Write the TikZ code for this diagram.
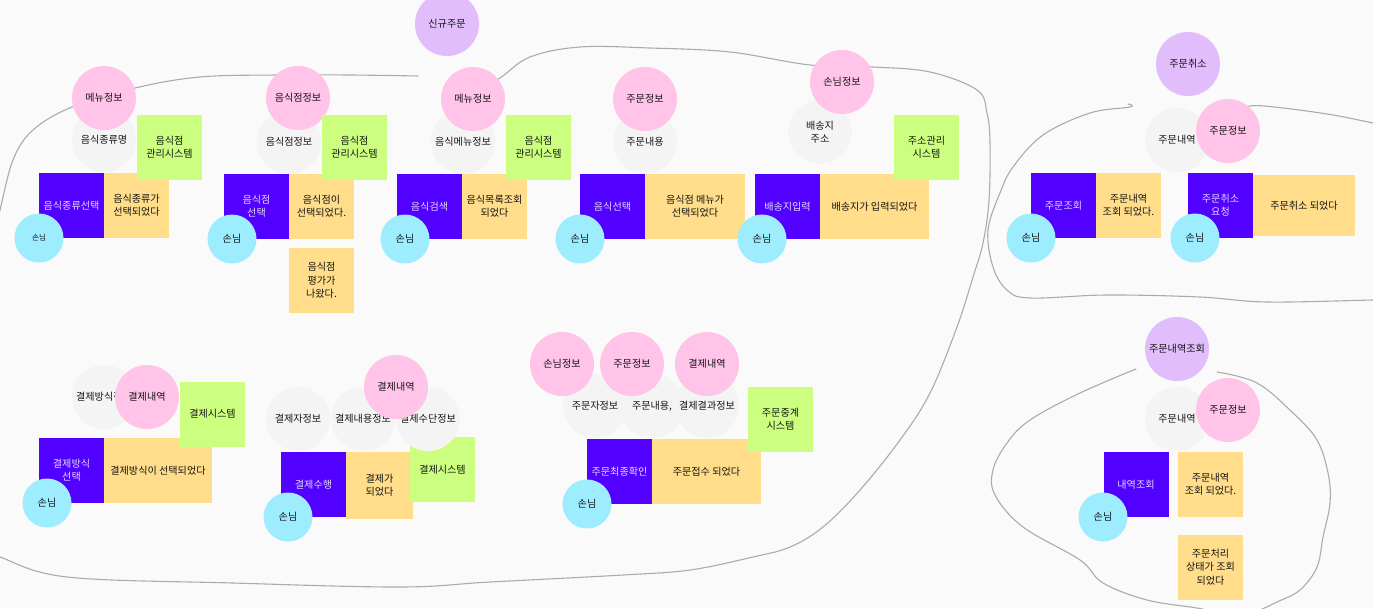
\documentclass[tikz,border=0pt]{standalone}
\usepackage{fontspec}
\setmainfont{Noto Sans CJK KR}
\usepackage{xcolor}
\usepackage{tikz}
\definecolor{cmdblue}{HTML}{5200FF}
\definecolor{evtyellow}{HTML}{FFDD8A}
\definecolor{sysgreen}{HTML}{CCFF80}
\definecolor{infopink}{HTML}{FFC4E8}
\definecolor{aggpurple}{HTML}{E1BDFC}
\definecolor{actorcyan}{HTML}{9DEDFF}
\definecolor{attrgray}{HTML}{F4F4F4}
\definecolor{paper}{HTML}{FAFAFA}
\definecolor{pen}{HTML}{ABABAB}
\tikzset{
	note/.style={
			font=\fontsize{10.1}{13.3}\selectfont,
			text=black!92,
			align=center,
			inner sep=0pt,
		},
	cmd/.style={note, rectangle, fill=cmdblue, text=white!85!cmdblue, minimum width=65pt, minimum height=65pt},
	evt/.style={note, rectangle, fill=evtyellow, minimum width=65pt, minimum height=65pt},
	sys/.style={note, rectangle, fill=sysgreen, minimum width=65pt, minimum height=65pt},
	info/.style={note, circle, fill=infopink, minimum size=64pt},
	attr/.style={note, circle, fill=attrgray, minimum size=64pt},
	agg/.style={note, circle, fill=aggpurple, minimum size=64pt},
	actor/.style={note, circle, fill=actorcyan, minimum size=49pt},
	border/.style={draw=pen, line width=1.1pt, line cap=round, line join=round}
}
\begin{document}
\begin{tikzpicture}[x=1pt,y=-1pt]
			\fill[paper] (0,0) rectangle (1373,608);
			\useasboundingbox (0,0) rectangle (1373,608);

			\draw[border] plot[smooth, tension=0.6] coordinates {(-2,215) (0,210) (13,160) (33,130) (72,107) (135,88) (200,77) (277,75) (350,75) (418,76)};
			\draw[border] plot[smooth, tension=0.6] coordinates {(480,88) (500,78) (530,57) (580,47) (650,48) (730,52) (810,65) (873,67) (930,72) (977,90) (987,113) (990,143) (989,200) (983,243) (973,277) (957,327) (930,393) (900,440) (860,490) (823,527) (790,547) (753,557) (690,570) (623,575) (490,582) (400,587) (233,583) (67,577) (0,557) (-2,556)};
			\draw[border] plot[smooth, tension=0.6] coordinates {(1128,104) (1130,107) (1090,113) (1043,135) (1013,167) (1000,193) (988,230) (993,267) (1007,290) (1030,298) (1107,295) (1200,297) (1267,302) (1373,300) (1375,300)};
			\draw[border] plot[smooth, tension=0.6] coordinates {(1235,115) (1250,106) (1283,108) (1333,115) (1373,123) (1375,123)};
			\draw[border] plot[smooth, tension=0.6] coordinates {(1136,369) (1080,393) (1030,420) (1007,443) (993,470) (995,495) (1023,527) (1080,560) (1103,583) (1147,600) (1197,608) (1215,612)};
			\draw[border] plot[smooth, tension=0.6] coordinates {(1217,372) (1257,383) (1293,413) (1317,440) (1328,473) (1330,503) (1323,537) (1317,567) (1300,590) (1277,602) (1260,610)};

			\node[attr] at (104,140) (kindname) {음식종류명};
			\node[info] at (104,98) (menu1) {메뉴정보};
			\node[evt] at (136.5,205.5) (kindpicked) {음식종류가\\선택되었다};
			\node[cmd] at (71.5,205.5) (pickkind) {음식종류선택};
			\node[sys] at (169.5,147.5) (shopsys1) {음식점\\관리시스템};
			\node[actor, font=\fontsize{7.6}{9}\selectfont] at (39,238) (guest1) {손님};

			\node[attr] at (289,142) (shopattr) {음식점정보};
			\node[info] at (298,98) (shopinfo) {음식점정보};
			\node[evt] at (321.5,206.5) (shoppicked) {음식점이\\선택되었다.};
			\node[cmd] at (256.5,206.5) (pickshop) {음식점\\선택};
			\node[sys] at (354.5,147) (shopsys2) {음식점\\관리시스템};
			\node[actor] at (232,239) (guest2) {손님};
			\node[evt] at (321.5,280.5) (shoprated) {음식점\\평가가\\나왔다.};

			\node[agg] at (447,24) (neworder) {신규주문};
			\node[attr] at (463,142) (menuattr) {음식메뉴정보};
			\node[info] at (473,99) (menu2) {메뉴정보};
			\node[evt] at (494.5,206.5) (listed) {음식목록조회\\되었다};
			\node[cmd] at (429.5,206.5) (search) {음식검색};
			\node[sys] at (538.5,147.5) (shopsys3) {음식점\\관리시스템};
			\node[actor] at (405,239) (guest3) {손님};

			\node[attr] at (645,142) (orderattr) {주문내용};
			\node[info] at (645,99) (order1) {주문정보};
			\node[evt, minimum width=100pt] at (695,206.5) (foodpicked) {음식점 메뉴가\\선택되었다};
			\node[cmd] at (612.5,206.5) (pickfood) {음식선택};
			\node[actor] at (580,239) (guest4) {손님};

			\node[attr] at (820,132) (address) {배송지\\주소};
			\node[info] at (842,82) (guestinfo1) {손님정보};
			\node[evt, minimum width=109pt] at (874.5,206.5) (addressed) {배송지가 입력되었다};
			\node[cmd] at (787.5,206.5) (enteraddr) {배송지입력};
			\node[sys] at (926.5,147) (addrsys) {주소관리\\시스템};
			\node[actor] at (762,239) (guest5) {손님};

			\node[agg] at (1188,64) (cancel) {주문취소};
			\node[attr] at (1177,140) (history1) {주문내역};
			\node[info] at (1228,131) (order2) {주문정보};
			\node[evt] at (1128.5,205.5) (looked1) {주문내역\\조회 되었다.};
			\node[cmd] at (1063.5,205.5) (lookup1) {주문조회};
			\node[actor] at (1031,238) (guest6) {손님};
			\node[evt, minimum width=102pt, minimum height=61pt] at (1304,205.5) (cancelled) {주문취소 되었다};
			\node[cmd] at (1220.5,205.5) (askcancel) {주문취소\\요청};
			\node[actor] at (1195,238) (guest7) {손님};

			\node[attr] at (104,397) (payway) {결제방식정보};
			\node[info] at (147,397) (paid1) {결제내역};
			\node[evt, minimum width=108pt] at (158,470.5) (waypicked) {결제방식이 선택되었다};
			\node[cmd] at (71.5,470.5) (pickway) {결제방식\\선택};
			\node[sys] at (212.5,414) (paysys1) {결제시스템};
			\node[actor] at (47,503) (guest8) {손님};

			\node[evt, minimum width=67pt, minimum height=67pt] at (379.5,485.5) (payed) {결제가\\되었다};
			\node[cmd] at (313.5,484.5) (pay) {결제수행};
			\node[sys] at (442.5,469.5) (paysys2) {결제시스템};
			\node[attr] at (298,419) (payer) {결제자정보};
			\node[attr] at (363,419) (paybody) {결제내용정보};
			\node[attr] at (428,419) (paymeans) {결제수단정보};
			\node[info] at (396,387) (paid2) {결제내역};
			\node[actor] at (288,517) (guest9) {손님};

			\node[attr] at (595,406) (orderer) {주문자정보};
			\node[attr] at (652,406) (orderbody) {주문내용,};
			\node[attr] at (707,406) (payresult) {결제결과정보};
			\node[info] at (562,364) (guestinfo2) {손님정보};
			\node[info] at (632,364) (order3) {주문정보};
			\node[info] at (707,364) (paid3) {결제내역};
			\node[evt, minimum width=109pt] at (706.5,471.5) (accepted) {주문접수 되었다};
			\node[cmd] at (619.5,471.5) (confirm) {주문최종확인};
			\node[sys] at (780.5,419.5) (relaysys) {주문중계\\시스템};
			\node[actor] at (587,504) (guest10) {손님};

			\node[agg] at (1177,349) (historyagg) {주문내역조회};
			\node[attr] at (1177,419) (history2) {주문내역};
			\node[info] at (1228,410) (order4) {주문정보};
			\node[cmd] at (1136,484.5) (lookup2) {내역조회};
			\node[evt] at (1210.5,484.5) (looked2) {주문내역\\조회 되었다.};
			\node[evt] at (1210.5,567) (stated) {주문처리\\상태가 조회\\되었다};
			\node[actor] at (1103,517) (guest11) {손님};
		\end{tikzpicture}
\end{document}
